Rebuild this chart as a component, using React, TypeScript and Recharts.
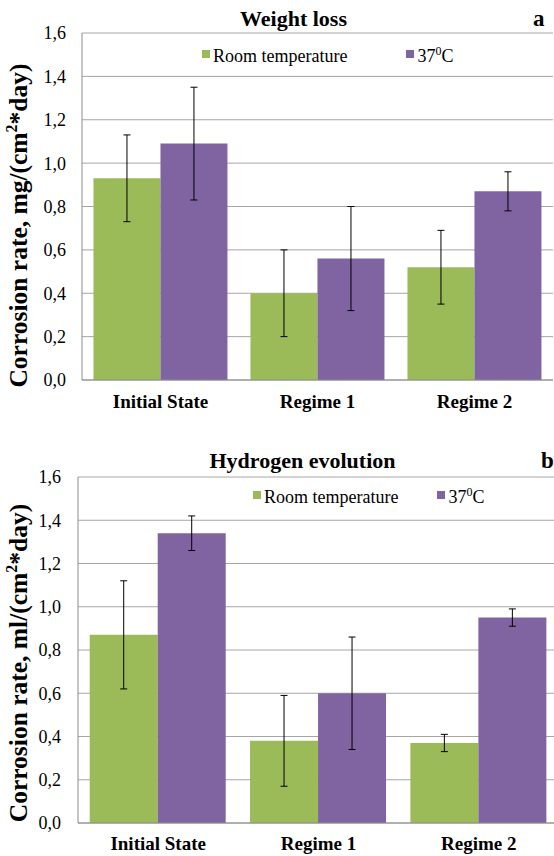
import React from 'react';
import { BarChart, Bar, XAxis, YAxis, CartesianGrid, ErrorBar, Legend } from 'recharts';

const categories = ['Initial State', 'Regime 1', 'Regime 2'];
const yTicks = [0, 0.2, 0.4, 0.6, 0.8, 1.0, 1.2, 1.4, 1.6];
const seriesNames = ['Room temperature', '37°C'];

const weightRoom = [0.93, 0.40, 0.52];
const weightRoomErr = [0.20, 0.20, 0.17];
const weight37 = [1.09, 0.56, 0.87];
const weight37Err = [0.26, 0.24, 0.09];

const hydroRoom = [0.87, 0.38, 0.37];
const hydroRoomErr = [0.25, 0.21, 0.04];
const hydro37 = [1.34, 0.60, 0.95];
const hydro37Err = [0.08, 0.26, 0.04];

const GREEN = '#9BBB59';
const PURPLE = '#8064A2';
const AXIS = '#8c8c8c';
const GRID = '#a6a6a6';
const FONT = '"Liberation Serif", "Times New Roman", "Liberation Sans", Arial, sans-serif';

const weightData = categories.map((c, i) => ({
  category: c,
  room: weightRoom[i],
  roomErr: weightRoomErr[i],
  hot: weight37[i],
  hotErr: weight37Err[i],
}));

const hydroData = categories.map((c, i) => ({
  category: c,
  room: hydroRoom[i],
  roomErr: hydroRoomErr[i],
  hot: hydro37[i],
  hotErr: hydro37Err[i],
}));

const fmt = (v: number) => v.toFixed(1).replace('.', ',');

const makeYLabel = (unit: string, shift: number) => (props: any) => {
  const vb = props && props.viewBox ? props.viewBox : { x: 0, y: 0, width: 0, height: 0 };
  const cx = 27;
  const cy = vb.y + vb.height / 2 + shift;
  return (
    <text
      x={cx}
      y={cy}
      transform={`rotate(-90 ${cx} ${cy})`}
      textAnchor="middle"
      style={{ fontFamily: FONT }}
      fontWeight="bold"
      fontSize={25.5}
      fill="#000"
    >
      {`Corrosion rate, ${unit}/(cm`}
      <tspan dy={-10} fontSize={16}>2</tspan>
      <tspan dy={10}>*day)</tspan>
    </text>
  );
};

const makeLegend = (gap: number) => (props: any) => {
  const payload = ((props && props.payload) || [])
    .slice()
    .sort((a: any, b: any) => seriesNames.indexOf(a.value) - seriesNames.indexOf(b.value));
  return (
    <div
      style={{
        display: 'flex',
        alignItems: 'center',
        fontFamily: FONT,
        fontSize: 18,
        lineHeight: '20px',
        whiteSpace: 'nowrap',
        color: '#000',
      }}
    >
      {payload.map((e: any, i: number) => (
        <div key={i} style={{ display: 'flex', alignItems: 'center', marginRight: i === 0 ? gap : 0 }}>
          <span
            style={{
              width: 8,
              height: 8,
              background: e.color,
              marginRight: 3,
              display: 'inline-block',
              position: 'relative',
              top: -2,
            }}
          />
          <span>
            {e.value === seriesNames[1] ? (
              <>
                37<sup style={{ fontSize: 12, lineHeight: 0 }}>0</sup>C
              </>
            ) : (
              e.value
            )}
          </span>
        </div>
      ))}
    </div>
  );
};

type PanelProps = {
  data: any[];
  width: number;
  height: number;
  margin: { top: number; right: number; bottom: number; left: number };
  yAxisWidth: number;
  yTickMargin: number;
  xTickMargin: number;
  unit: string;
  labelShift: number;
  legendLeft: number;
  legendTop: number;
  legendGap: number;
  rightBorder: boolean;
};

const Panel = (p: PanelProps) => (
  <BarChart
    width={p.width}
    height={p.height}
    data={p.data}
    margin={p.margin}
    barCategoryGap="7.3%"
    barGap={0}
    style={{ fontFamily: FONT }}
  >
    <CartesianGrid vertical={false} stroke={GRID} />
    <XAxis
      dataKey="category"
      interval={0}
      tickLine={false}
      tickSize={0}
      tickMargin={p.xTickMargin}
      height={30}
      axisLine={{ stroke: AXIS }}
      tick={{ fill: '#000', fontFamily: FONT, fontSize: 19, fontWeight: 'bold', style: { fontFamily: FONT } }}
    />
    <YAxis
      domain={[0, 1.6]}
      ticks={yTicks}
      tickFormatter={fmt}
      tickLine={false}
      tickSize={0}
      tickMargin={p.yTickMargin}
      width={p.yAxisWidth}
      axisLine={{ stroke: AXIS }}
      tick={{ fill: '#000', fontFamily: FONT, fontSize: 18, style: { fontFamily: FONT } }}
      label={{ content: makeYLabel(p.unit, p.labelShift) }}
    />
    {p.rightBorder && (
      <YAxis
        yAxisId="r"
        orientation="right"
        width={0}
        domain={[0, 1.6]}
        tick={false}
        tickLine={false}
        axisLine={{ stroke: AXIS }}
      />
    )}
    <Legend
      layout="horizontal"
      verticalAlign="middle"
      align="center"
      wrapperStyle={{ top: p.legendTop, left: p.legendLeft, width: 'auto', height: 'auto' }}
      content={makeLegend(p.legendGap)}
    />
    <Bar dataKey="room" name={seriesNames[0]} fill={GREEN} isAnimationActive={false}>
      <ErrorBar dataKey="roomErr" width={3.5} stroke="#000" strokeWidth={1} direction="y" />
    </Bar>
    <Bar dataKey="hot" name={seriesNames[1]} fill={PURPLE} isAnimationActive={false}>
      <ErrorBar dataKey="hotErr" width={3.5} stroke="#000" strokeWidth={1} direction="y" />
    </Bar>
  </BarChart>
);

const titleStyle = { fontFamily: FONT };

export default function App() {
  return (
    <div
      style={{
        position: 'absolute',
        left: 0,
        top: 0,
        width: 554,
        height: 856,
        overflow: 'hidden',
        background: '#fff',
        fontFamily: FONT,
      }}
    >
      <div style={{ position: 'absolute', left: 0, top: 0 }}>
        <Panel
          data={weightData}
          width={554}
          height={430}
          margin={{ top: 33, right: 1, bottom: 20, left: 0 }}
          yAxisWidth={82}
          yTickMargin={16}
          xTickMargin={15}
          unit="mg"
          labelShift={19}
          legendLeft={202}
          legendTop={46}
          legendGap={59}
          rightBorder={true}
        />
      </div>
      <div style={{ position: 'absolute', left: 0, top: 430 }}>
        <Panel
          data={hydroData}
          width={560}
          height={426}
          margin={{ top: 47, right: 1, bottom: 3, left: 0 }}
          yAxisWidth={78}
          yTickMargin={17}
          xTickMargin={14}
          unit="ml"
          labelShift={13}
          legendLeft={253}
          legendTop={57}
          legendGap={39}
          rightBorder={false}
        />
      </div>
      <svg
        width={554}
        height={856}
        style={{ position: 'absolute', left: 0, top: 0, pointerEvents: 'none' }}
      >
        <text x={293.5} y={26} textAnchor="middle" style={titleStyle} fontWeight="bold" fontSize={22} fill="#000">
          Weight loss
        </text>
        <text x={533} y={26} style={titleStyle} fontWeight="bold" fontSize={23} fill="#000">
          a
        </text>
        <text x={302.5} y={468} textAnchor="middle" style={titleStyle} fontWeight="bold" fontSize={22} fill="#000">
          Hydrogen evolution
        </text>
        <text x={541} y={468} style={titleStyle} fontWeight="bold" fontSize={23} fill="#000">
          b
        </text>
      </svg>
    </div>
  );
}
